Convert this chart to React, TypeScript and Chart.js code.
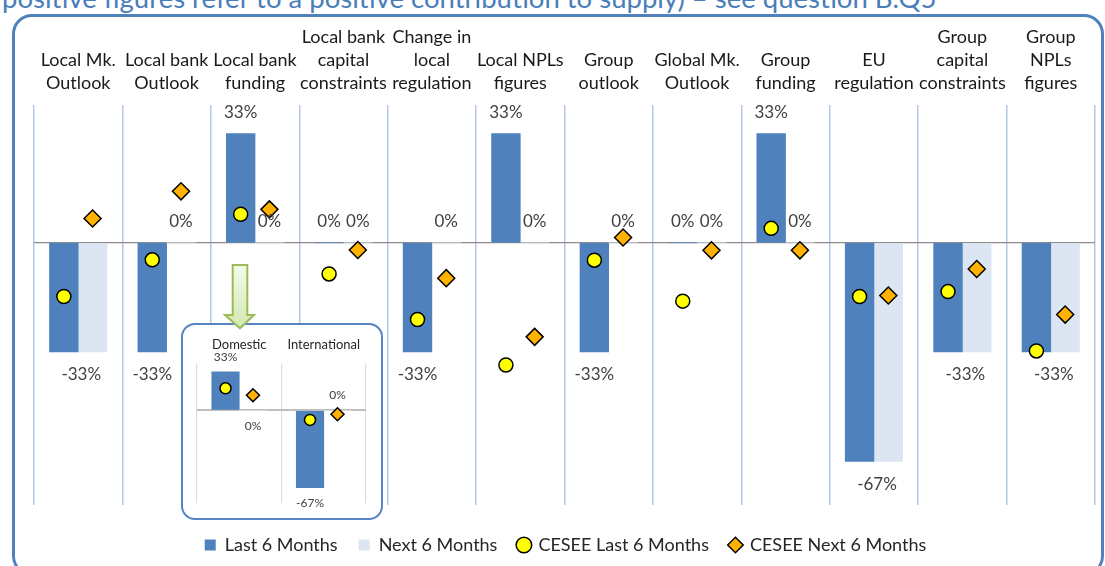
import React, { useEffect, useRef } from 'react';
import { Chart, registerables } from 'chart.js';

Chart.register(...registerables);

const FONT = 'Lato, "Open Sans", sans-serif';

// ---------- main chart data ----------
const categoryLabels: string[][] = [
  ['Local Mk.', 'Outlook'],
  ['Local bank', 'Outlook'],
  ['Local bank', 'funding'],
  ['Local bank', 'capital', 'constraints'],
  ['Change in', 'local', 'regulation'],
  ['Local NPLs', 'figures'],
  ['Group', 'outlook'],
  ['Global Mk.', 'Outlook'],
  ['Group', 'funding'],
  ['EU', 'regulation'],
  ['Group', 'capital', 'constraints'],
  ['Group', 'NPLs', 'figures'],
];
const last6Months = [-0.333, -0.333, 0.333, 0, -0.333, 0.333, -0.333, 0, 0.333, -0.667, -0.333, -0.333];
const next6Months = [-0.333, 0, 0, 0, 0, 0, 0, 0, 0, -0.667, -0.333, -0.333];
const ceseeLast6Months = [-0.164, -0.052, 0.087, -0.095, -0.234, -0.373, -0.053, -0.178, 0.044, -0.164, -0.149, -0.33];
const ceseeNext6Months = [0.074, 0.157, 0.102, -0.022, -0.108, -0.287, 0.016, -0.023, -0.023, -0.161, -0.08, -0.219];

// ---------- inset chart data ----------
const insetLabels = ['Domestic', 'International'];
const insetLast6Months = [0.333, -0.667];
const insetNext6Months = [0, 0];
const insetCeseeLast = [0.19, -0.083];
const insetCeseeNext = [0.13, -0.034];

const seriesNames = ['Last 6 Months', 'Next 6 Months', 'CESEE Last 6 Months', 'CESEE Next 6 Months'];

const BLUE = '#4F81BD';
const LIGHT = '#DCE6F2';
const YELLOW = '#FFFF00';
const ORANGE = '#FFB300';

// each category: a bar pair filling 65% of the slot; each series sits at the centre of its half
const GROUP_PCT = 0.65;
const SHIFT = GROUP_PCT / 4;

const pct = (v: number) => `${Math.round(v * 100)}%`;

const barLabelPlugin = {
  id: 'barLabels',
  afterDatasetsDraw(chart: any, _args: any, opts: any) {
    const ctx = chart.ctx;
    const m0 = chart.getDatasetMeta(0);
    const m1 = chart.getDatasetMeta(1);
    const d0 = (chart.data.datasets[0].data as any[]).map((p) => p.y as number);
    const d1 = (chart.data.datasets[1].data as any[]).map((p) => p.y as number);
    const base = chart.scales.y.getPixelForValue(0);
    ctx.save();
    ctx.font = opts.font;
    ctx.fillStyle = opts.color;
    ctx.textAlign = 'center';
    ctx.textBaseline = 'middle';
    const yFor = (v: number, el: any, zeroBelow: boolean) => {
      if (v > 0) return el.y - opts.above;
      if (v < 0) return el.y + opts.below;
      return zeroBelow ? base + opts.below : base - opts.above;
    };
    for (let i = 0; i < d0.length; i++) {
      const a = d0[i];
      const b = d1[i];
      const e0 = m0.data[i];
      const e1 = m1.data[i];
      if (a === b && a !== 0) {
        ctx.fillText(pct(a), (e0.x + e1.x) / 2 + opts.mergedShift, yFor(a, e0, false));
      } else {
        ctx.fillText(pct(a), e0.x, yFor(a, e0, false));
        ctx.fillText(pct(b), e1.x, yFor(b, e1, (opts.zeroBelow || []).includes(i)));
      }
    }
    ctx.restore();
  },
};

function makeDatasets(last: number[], next: number[], cLast: number[], cNext: number[], circleR: number, diamondR: number) {
  const left = (vals: number[]) => vals.map((v, i) => ({ x: i - SHIFT, y: v }));
  const right = (vals: number[]) => vals.map((v, i) => ({ x: i + SHIFT, y: v }));
  return [
    {
      type: 'bar' as const,
      label: seriesNames[0],
      data: left(last),
      xAxisID: 'xb',
      backgroundColor: BLUE,
      borderWidth: 0,
      pointStyle: 'rect',
      order: 2,
      grouped: false,
      categoryPercentage: 1,
      barPercentage: 1,
    },
    {
      type: 'bar' as const,
      label: seriesNames[1],
      data: right(next),
      xAxisID: 'xb',
      backgroundColor: LIGHT,
      borderWidth: 0,
      pointStyle: 'rect',
      order: 2,
      grouped: false,
      categoryPercentage: 1,
      barPercentage: 1,
    },
    {
      type: 'scatter' as const,
      label: seriesNames[2],
      data: left(cLast),
      xAxisID: 'xb',
      backgroundColor: YELLOW,
      borderColor: '#000',
      borderWidth: 1.5,
      pointStyle: 'circle',
      pointRadius: circleR,
      order: 1,
    },
    {
      type: 'scatter' as const,
      label: seriesNames[3],
      data: right(cNext),
      xAxisID: 'xb',
      backgroundColor: ORANGE,
      borderColor: '#000',
      borderWidth: 1.5,
      pointStyle: 'rectRot',
      pointRadius: diamondR,
      order: 1,
    },
  ];
}

export default function App() {
  const mainRef = useRef<HTMLCanvasElement>(null);
  const insetRef = useRef<HTMLCanvasElement>(null);

  useEffect(() => {
    const main = new Chart(mainRef.current as HTMLCanvasElement, {
      type: 'bar',
      data: {
        labels: categoryLabels as any,
        datasets: makeDatasets(last6Months, next6Months, ceseeLast6Months, ceseeNext6Months, 7, 8.5) as any,
      },
      plugins: [barLabelPlugin],
      options: {
        responsive: false,
        animation: false,
        events: [],
        layout: { padding: { left: 34, right: 8, top: 16, bottom: 2 } },
        scales: {
          x: {
            type: 'category',
            position: 'top',
            offset: true,
            grid: { offset: true, color: '#B4C8E6', lineWidth: 1.5, drawTicks: false },
            border: { display: false },
            ticks: {
              color: '#1a1a1a',
              font: { family: FONT, size: 18, lineHeight: 1.28 },
              padding: 10,
              maxRotation: 0,
              minRotation: 0,
              autoSkip: false,
            },
          },
          xb: {
            type: 'linear',
            display: false,
            offset: false,
            min: -0.5,
            max: categoryLabels.length - 0.5,
            ticks: { stepSize: 1 },
          },
          y: {
            min: -0.8,
            max: 0.42,
            ticks: { display: false },
            grid: { color: '#8C8C8C', lineWidth: 1.2, drawTicks: false },
            border: { display: false },
            afterBuildTicks: (axis: any) => {
              axis.ticks = [{ value: 0 }];
            },
          },
        },
        plugins: {
          tooltip: { enabled: false },
          legend: {
            position: 'bottom',
            title: { display: true, text: '', font: { size: 10, lineHeight: 1.0 } },
            labels: {
              usePointStyle: true,
              boxWidth: 11,
              boxHeight: 11,
              padding: 21,
              color: '#262626',
              font: { family: FONT, size: 18 },
              sort: (a: any, b: any) => a.datasetIndex - b.datasetIndex,
            },
          },
          barLabels: {
            font: `17px ${FONT}`,
            color: '#404040',
            above: 21,
            below: 23,
            mergedShift: 3,
          },
        } as any,
      },
    } as any);

    const inset = new Chart(insetRef.current as HTMLCanvasElement, {
      type: 'bar',
      data: {
        labels: insetLabels,
        datasets: makeDatasets(insetLast6Months, insetNext6Months, insetCeseeLast, insetCeseeNext, 5.5, 6.5) as any,
      },
      plugins: [barLabelPlugin],
      options: {
        responsive: false,
        animation: false,
        events: [],
        layout: { padding: { left: 14, right: 15, top: 0, bottom: 15 } },
        scales: {
          x: {
            type: 'category',
            position: 'top',
            offset: true,
            grid: { offset: true, color: '#D5E0F0', lineWidth: 1.2, drawTicks: false },
            border: { display: false },
            ticks: {
              color: '#262626',
              font: { family: FONT, size: 13, lineHeight: 1.15 },
              padding: 12,
              maxRotation: 0,
              minRotation: 0,
              autoSkip: false,
            },
          },
          xb: {
            type: 'linear',
            display: false,
            offset: false,
            min: -0.5,
            max: insetLabels.length - 0.5,
            ticks: { stepSize: 1 },
          },
          y: {
            min: -0.8,
            max: 0.4,
            ticks: { display: false },
            grid: { color: '#BFBFBF', lineWidth: 2, drawTicks: false },
            border: { display: false },
            afterBuildTicks: (axis: any) => {
              axis.ticks = [{ value: 0 }];
            },
          },
        },
        plugins: {
          tooltip: { enabled: false },
          legend: { display: false },
          barLabels: {
            font: `12px ${FONT}`,
            color: '#404040',
            above: 15,
            below: 16,
            mergedShift: 0,
            zeroBelow: [0],
          },
        } as any,
      },
    } as any);

    return () => {
      main.destroy();
      inset.destroy();
    };
  }, []);

  return (
    <div
      style={{
        position: 'fixed',
        left: 0,
        top: 0,
        width: 1105,
        height: 566,
        overflow: 'hidden',
        background: '#fff',
      }}
    >
      <div
        style={{
          position: 'absolute',
          left: 2,
          top: -16,
          fontFamily: FONT,
          fontSize: 27.5,
          lineHeight: '27.5px',
          color: '#4A7EBB',
          whiteSpace: 'nowrap',
        }}
      >
        positive figures refer to a positive contribution to supply) – see question B.Q5
      </div>
      <div
        style={{
          position: 'absolute',
          left: 12,
          top: 14,
          width: 1092,
          height: 562,
          boxSizing: 'border-box',
          border: '3px solid #4F81BD',
          borderRadius: 20,
        }}
      />
      <canvas ref={mainRef} width={1105} height={566} style={{ position: 'absolute', left: 0, top: 0 }} />
      <div
        style={{
          position: 'absolute',
          left: 181,
          top: 323,
          width: 202,
          height: 197,
          boxSizing: 'border-box',
          border: '2px solid #5585C5',
          borderRadius: 14,
          background: '#fff',
        }}
      >
        <canvas ref={insetRef} width={198} height={193} style={{ display: 'block' }} />
      </div>
      <svg width={36} height={70} style={{ position: 'absolute', left: 222, top: 262 }}>
        <defs>
          <linearGradient id="arrowFill" x1="0" y1="0" x2="0" y2="1">
            <stop offset="0" stopColor="#F4FAEC" />
            <stop offset="1" stopColor="#D2E8AE" />
          </linearGradient>
        </defs>
        <polygon
          points="10.7,3 25.3,3 25.3,53 32,53 18,66.3 3,53 10.7,53"
          fill="url(#arrowFill)"
          stroke="#9BBB59"
          strokeWidth={2}
          strokeLinejoin="miter"
        />
      </svg>
    </div>
  );
}
